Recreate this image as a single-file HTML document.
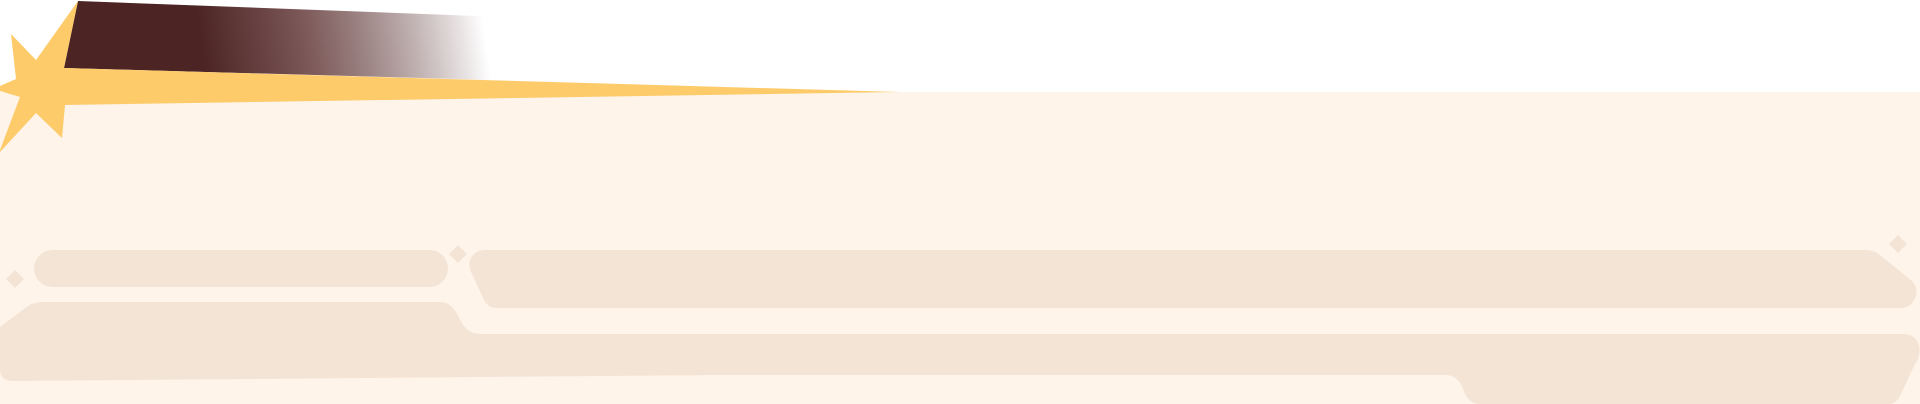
<!DOCTYPE html>
<html><head><meta charset="utf-8"><style>
html,body{margin:0;padding:0;width:1920px;height:404px;overflow:hidden;background:#fff}
svg{display:block}
</style></head><body>
<svg width="1920" height="404" viewBox="0 0 1920 404">
<defs>
<linearGradient id="fade" x1="200" y1="40" x2="480" y2="0" gradientUnits="userSpaceOnUse">
<stop offset="0" stop-color="#4C2424"/>
<stop offset="0.35" stop-color="#7a5555"/>
<stop offset="1" stop-color="#4C2424" stop-opacity="0"/>
</linearGradient>
</defs>
<rect x="0" y="92" width="1920" height="312" fill="#FEF4EA"/>
<polygon points="78,1 530,18 530,81 64,68" fill="url(#fade)"/>
<polygon points="64,68 900,92 64,105" fill="#FDCB6A"/>
<polygon points="78,1 36,60 11,34 16,79 0,86 0,91 20,97 0,150 0,152 36,113 62,138 65,105 64,68" fill="#FDCB6A"/>
<rect x="34" y="250" width="414" height="37" rx="18.5" fill="#F4E4D6"/>
<path d="M486,250 L1866,250 Q1874,250 1880,255 L1912,281 Q1920,290 1914,300 Q1910,308 1900,308 L497,308 Q488,308 484,300 L472,274 Q466,262 474,254 Q478,250 486,250 Z" fill="#F4E4D6"/>
<path d="M44,302 L440,302 Q450,302 456,312 L462,323 Q468,334 482,334 L1903,334 Q1916,334 1919,346 Q1921,356 1915,364 L1900,396 Q1896,404 1888,404 L1480,404 Q1470,404 1465,394 L1462,386 Q1456,375 1446,375 L720,375 L14,381 Q0,381 0,370 L0,327 L28,306 Q34,302 44,302 Z" fill="#F4E4D6"/>
<polygon points="15,270 24,279 15,288 6,279" fill="#F4E4D6"/>
<polygon points="458,245 467,254 458,263 449,254" fill="#F4E4D6"/>
<polygon points="1898,235 1907,244 1898,253 1889,244" fill="#F4E4D6"/>
</svg>
</body></html>
